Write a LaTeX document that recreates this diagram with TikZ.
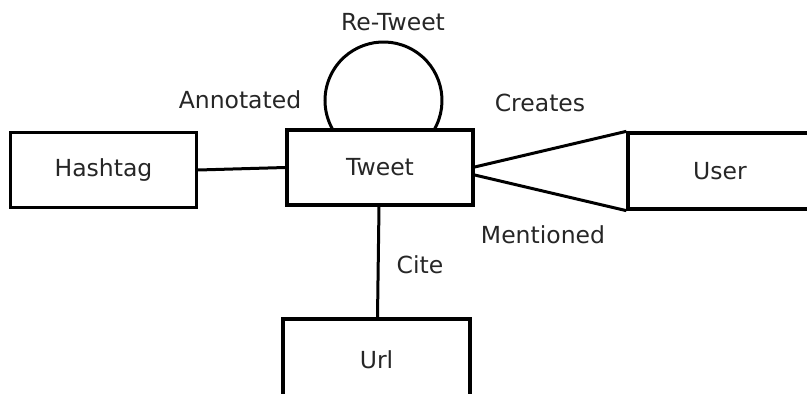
\documentclass[tikz,border=0pt]{standalone}
\usepackage{fontspec}
\setmainfont{DejaVu Sans}
\usetikzlibrary{calc}
\begin{document}
\begin{tikzpicture}[x=1pt,y=1pt,
  entity/.style={draw=black, line width=3.3pt, minimum width=186pt, minimum height=75pt,
    inner sep=0pt, font=\fontsize{23.5}{28}\selectfont, text=black!85},
  rel/.style={draw=black, line width=3pt},
  lbl/.style={font=\fontsize{23.5}{28}\selectfont, text=black!85, inner sep=0pt}]
\useasboundingbox (0,0) rectangle (807,394);
\clip (0,0) rectangle (807,394);
% entities
\node[entity] (hash) at (103.5,224) {Hashtag};
\node[entity] (tw)   at (380,226.5) {Tweet};
\node[entity, minimum width=184pt, minimum height=76pt] (usr) at (720,223) {User};
\node[entity, minimum width=187pt, minimum height=82pt] (url) at (376.5,34) {Url};
% relationships
\draw[rel] (hash.east) -- (tw.west);
\draw[rel] ($(tw.east)+(0,0.5)$) -- (usr.north west);
\draw[rel] ($(tw.east)+(0,-7.5)$) -- (usr.south west);
\draw[rel] ($(tw.south)+(-1,0)$) -- ($(url.north)+(1,0)$);
% self-loop over Tweet
\coordinate (loopR) at (434,264);
\draw[rel] (loopR) arc[start angle=-30.3, end angle=210.3, radius=58.5];
% relationship labels
\node[lbl] (lRe)   at (393,372) {Re-Tweet};
\node[lbl] (lAnn)  at (240,294) {Annotated};
\node[lbl] (lCre)  at (540,291) {Creates};
\node[lbl] (lMen)  at (543,159) {Mentioned};
\node[lbl] (lCite) at (420,129) {Cite};
\end{tikzpicture}
\end{document}
